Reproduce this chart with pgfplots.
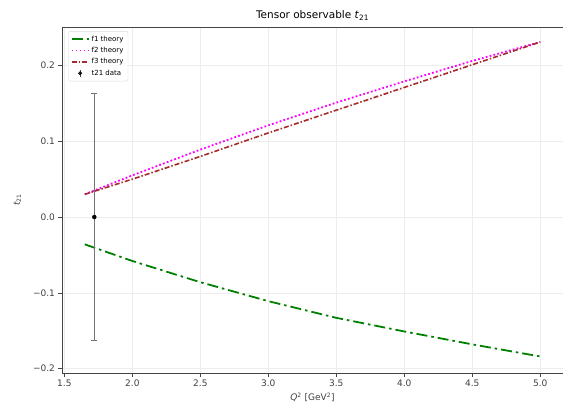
\documentclass[border=0pt]{standalone}
\usepackage{fontspec}
\setmainfont{DejaVu Sans}
\usepackage{pgfplots}
\pgfplotsset{compat=1.18}
\usetikzlibrary{calc}

\definecolor{fone}{RGB}{0,128,0}
\definecolor{ftwo}{RGB}{255,0,255}
\definecolor{fthree}{RGB}{165,42,42}
\definecolor{spine}{RGB}{70,70,70}

\begin{document}
\begin{tikzpicture}
\begin{axis}[
  name=ax,
  scale only axis,
  width=501pt, height=346pt,
  xmin=1.4825, xmax=5.1675,
  ymin=-0.2058, ymax=0.2508,
  xtick={1.5,2.0,2.5,3.0,3.5,4.0,4.5,5.0},
  xticklabels={1.5,2.0,2.5,3.0,3.5,4.0,4.5,5.0},
  ytick={-0.2,-0.1,0,0.1,0.2},
  yticklabels={−0.2,−0.1,0.0,0.1,0.2},
  tick label style={font=\fontsize{9}{10}\selectfont, text=black!75},
  tick align=outside,
  major tick length=3.5pt,
  xtick pos=left, ytick pos=left,
  every tick/.style={spine, line width=0.6pt},
  axis line style={spine, line width=0.8pt},
  grid=major,
  major grid style={black!7, line width=0.5pt},
  title={Tensor observable \textit{t}\textsubscript{21}},
  title style={font=\fontsize{10.5}{12}\selectfont, yshift=-3pt},
  xlabel={\textit{Q}\textsuperscript{2} [GeV\textsuperscript{2}]},
  ylabel={\textit{t}\textsubscript{21}},
  label style={font=\fontsize{9}{10}\selectfont, text=black!75},
  xlabel style={yshift=1pt},
  ylabel style={yshift=5pt},
  legend style={at={(0.012,0.988)}, anchor=north west,
    font=\fontsize{7}{8.5}\selectfont, draw=black!15, rounded corners=2pt,
    fill=white, fill opacity=0.8, text opacity=1, row sep=0.5pt,
    inner sep=2.5pt},
  legend cell align=left,
]
\addplot[fone, line width=1.8pt, dash pattern=on 11pt off 4pt on 2.5pt off 4pt]
  coordinates {(1.65,-0.036) (2.0,-0.058) (2.5,-0.086) (3.0,-0.111)
               (3.5,-0.133) (4.0,-0.151) (4.5,-0.168) (5.0,-0.184)};
\addlegendentry{f1 theory}
\addplot[ftwo, line width=1.8pt, dash pattern=on 1.8pt off 2.2pt]
  coordinates {(1.65,0.030) (2.0,0.055) (2.5,0.089) (3.0,0.121)
               (3.5,0.151) (4.0,0.179) (4.5,0.206) (5.0,0.231)};
\addlegendentry{f2 theory}
\addplot[fthree, line width=1.6pt, dash pattern=on 5pt off 2pt on 1.5pt off 2pt]
  coordinates {(1.65,0.030) (2.0,0.050) (2.5,0.080) (3.0,0.111)
               (3.5,0.141) (4.0,0.171) (4.5,0.201) (5.0,0.231)};
\addlegendentry{f3 theory}
\addplot[forget plot, only marks, mark=*, mark size=2pt, black,
  error bars/.cd, y dir=both, y explicit,
  error bar style={black!55, line width=1.1pt},
  error mark options={black!55, line width=1.1pt, mark size=3pt, rotate=90}]
  coordinates {(1.72,0.0) +- (0,0.1625)};
\addlegendimage{legend image code/.code={
  \draw[black!70, line width=1pt] (0.3cm,-0.13cm) -- (0.3cm,0.13cm);
  \fill[black] (0.3cm,0) circle (1.7pt);}}
\addlegendentry{t21 data}
\end{axis}
\pgfresetboundingbox
\path[use as bounding box] ($(ax.south west)+(-62pt,-32pt)$) rectangle ($(ax.north east)+(0pt,27pt)$);
\end{tikzpicture}
\end{document}
